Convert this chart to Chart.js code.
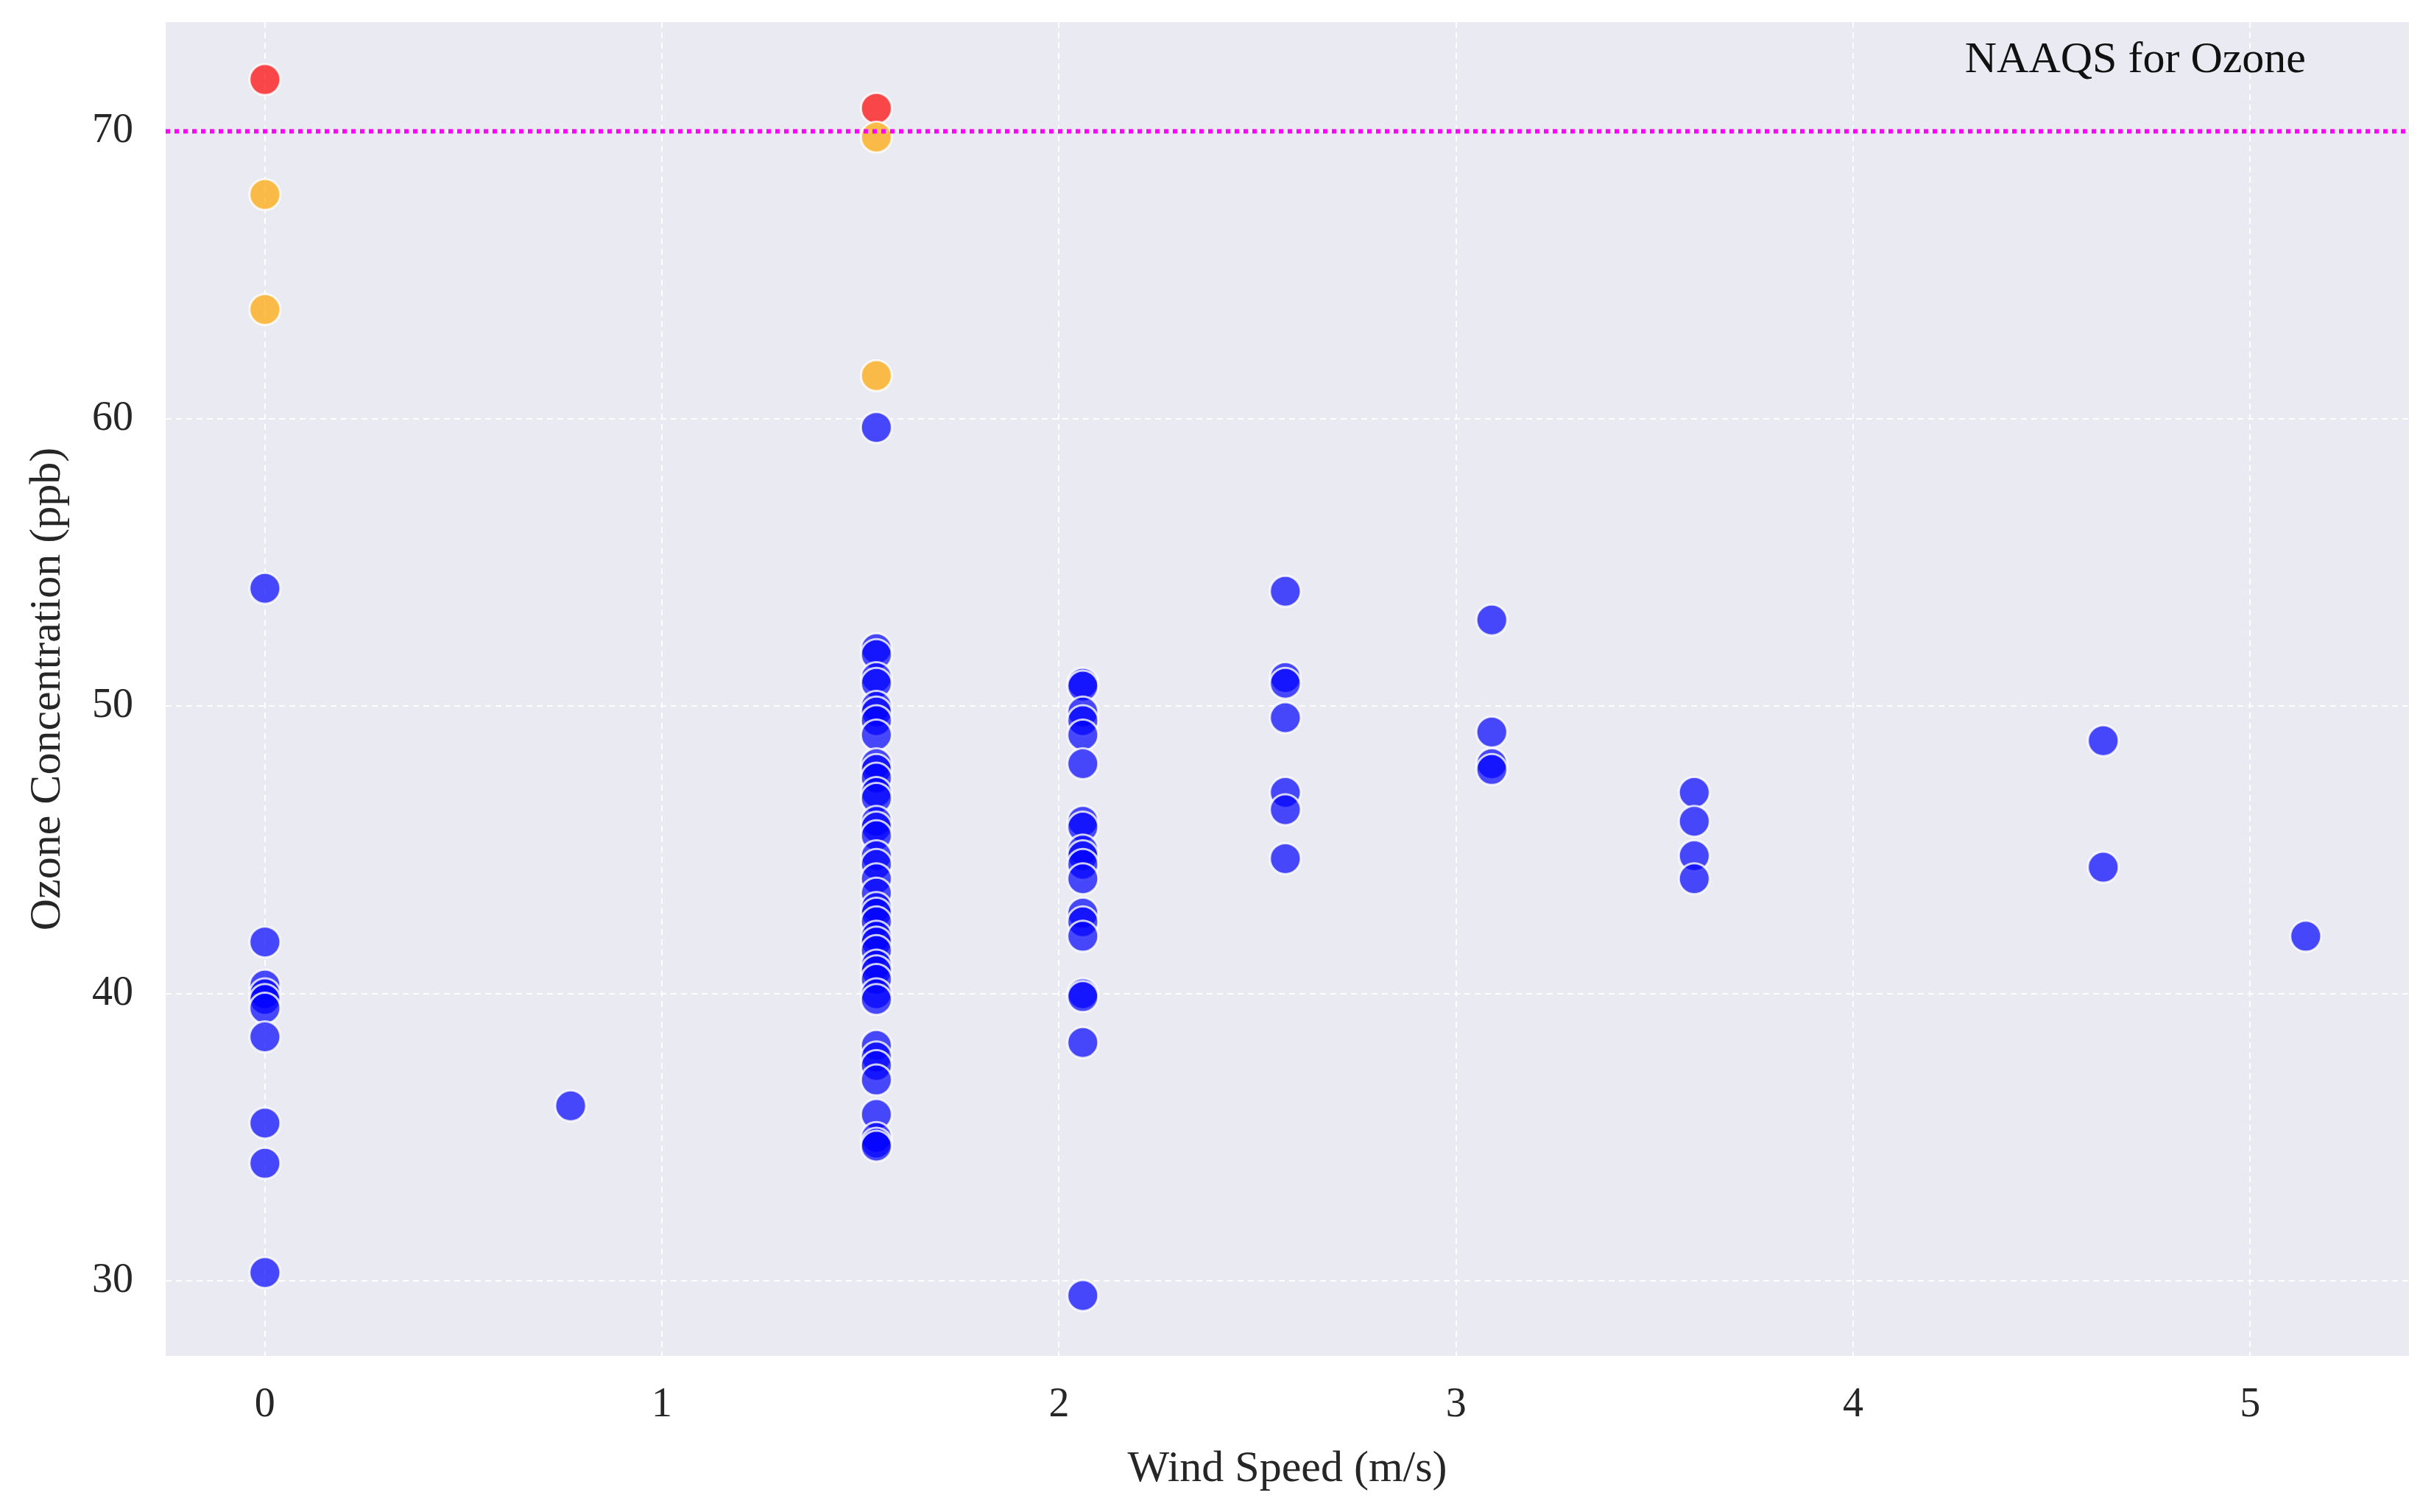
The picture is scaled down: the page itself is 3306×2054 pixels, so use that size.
<!DOCTYPE html>
<html><head><meta charset="utf-8">
<script src="https://cdn.jsdelivr.net/npm/chart.js@4.4.0/dist/chart.umd.min.js"></script>
<style>html,body{margin:0;padding:0;background:#fff}#w{width:3306px;height:2054px}</style>
</head><body><div id="w"><canvas id="c"></canvas></div>
<script>
const windSpeeds = [0, 0.77, 1.54, 2.06, 2.57, 3.09, 3.6, 4.63, 5.14];
const ozoneByWind = [
  [71.8, 67.8, 63.8, 54.1, 41.8, 40.3, 40.0, 39.8, 39.5, 38.5, 35.5, 34.1, 30.3],
  [36.1],
  [70.8, 69.8, 61.5, 59.7, 52.0, 51.8, 51.0, 50.8, 50.0, 49.8, 49.5, 49.0, 48.0, 47.8, 47.5, 47.0, 46.8, 46.0, 45.8, 45.5, 44.8, 44.5, 44.0, 43.5, 43.0, 42.8, 42.5, 42.0, 41.8, 41.5, 41.0, 40.8, 40.5, 40.0, 39.8, 38.2, 37.8, 37.5, 37.0, 35.8, 35.0, 34.8, 34.7],
  [50.8, 50.7, 49.8, 49.5, 49.0, 48.0, 46.0, 45.8, 45.0, 44.8, 44.5, 44.0, 42.8, 42.5, 42.0, 40.0, 39.9, 38.3, 29.5],
  [54.0, 51.0, 50.8, 49.6, 47.0, 46.4, 44.7],
  [53.0, 49.1, 48.0, 47.8],
  [47.0, 46.0, 44.8, 44.0],
  [48.8, 44.4],
  [42.0]
];
const xTicks = [0, 1, 2, 3, 4, 5];
const yTicks = [30, 40, 50, 60, 70];
const naaqs = 70;
const naaqsLabel = 'NAAQS for Ozone';

const pts = [];
windSpeeds.forEach((w, i) => ozoneByWind[i].forEach(o => pts.push({x: w, y: o})));
const colorFor = v => v > naaqs ? 'rgba(255,0,0,0.7)' : (v > 60 ? 'rgba(255,165,0,0.7)' : 'rgba(0,0,255,0.7)');

const font = "'Liberation Serif', 'DejaVu Serif', serif";
const bgPlugin = {
  id: 'bg',
  beforeDraw(ch) {
    const a = ch.chartArea, c = ch.ctx;
    c.save(); c.fillStyle = '#EAEAF2'; c.fillRect(a.left, a.top, a.right - a.left, a.bottom - a.top); c.restore();
  },
  afterDatasetsDraw(ch) {
    const a = ch.chartArea, c = ch.ctx, y = ch.scales.y.getPixelForValue(naaqs);
    c.save();
    c.strokeStyle = '#FF00FF'; c.lineWidth = 6; c.setLineDash([6, 6]);
    c.beginPath(); c.moveTo(a.left, y); c.lineTo(a.right, y); c.stroke();
    c.setLineDash([]);
    c.fillStyle = '#111'; c.font = '60px ' + font; c.textAlign = 'right'; c.textBaseline = 'middle';
    c.fillText(naaqsLabel, a.right - 140, a.top + 52);
    c.restore();
  }
};
new Chart(document.getElementById('c'), {
  type: 'scatter',
  data: {datasets: [{data: pts,
    backgroundColor: ctx => colorFor(ctx.raw ? ctx.raw.y : 0),
    borderColor: 'rgba(255,255,255,0.8)', borderWidth: 3, pointRadius: 21, pointHoverRadius: 21}]},
  options: {
    responsive: true, maintainAspectRatio: false, animation: false, devicePixelRatio: 1,
    layout: {padding: {top: 30, right: 34, left: 25, bottom: 18}},
    plugins: {legend: {display: false}, tooltip: {enabled: false}},
    scales: {
      x: {type: 'linear', min: -0.25, max: 5.4,
        afterBuildTicks: s => { s.ticks = xTicks.map(v => ({value: v})); },
        afterFit: s => { s.height = 194; s.paddingLeft = 0; s.paddingRight = 0; },
        grid: {color: 'rgba(255,255,255,0.9)', lineWidth: 2, drawTicks: false},
        border: {display: false, dash: [8, 6]},
        ticks: {color: '#262626', font: {family: font, size: 56}, padding: 34},
        title: {display: true, text: 'Wind Speed (m/s)', color: '#262626', font: {family: font, size: 60}, padding: {top: 0}}},
      y: {type: 'linear', min: 27.4, max: 73.8,
        afterBuildTicks: s => { s.ticks = yTicks.map(v => ({value: v})); },
        afterFit: s => { s.width = 200; s.paddingTop = 0; s.paddingBottom = 0; },
        grid: {color: 'rgba(255,255,255,0.9)', lineWidth: 2, drawTicks: false},
        border: {display: false, dash: [8, 6]},
        ticks: {color: '#262626', font: {family: font, size: 56}, padding: 44},
        title: {display: true, text: 'Ozone Concentration (ppb)', color: '#262626', font: {family: font, size: 60}, padding: {bottom: 0}}}
    }
  },
  plugins: [bgPlugin]
});
</script></body></html>
